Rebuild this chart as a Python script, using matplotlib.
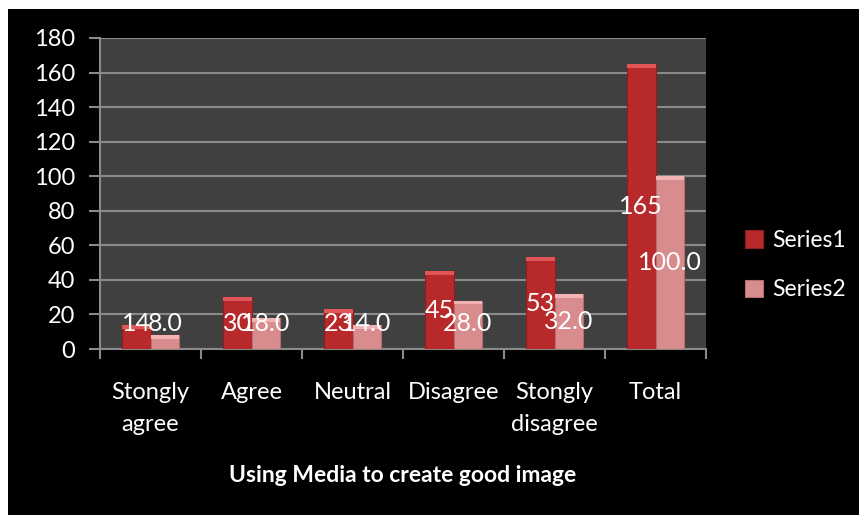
"""
Grouped bar chart: Using Media to create good image (Series1 counts vs Series2 percent).
"""
import matplotlib
matplotlib.use("Agg")
import matplotlib.pyplot as plt
from matplotlib.patches import Rectangle
import numpy as np

categories = ["Stongly\nagree", "Agree", "Neutral", "Disagree", "Stongly\ndisagree", "Total"]
series1 = [14, 30, 23, 45, 53, 165]
series2 = [8.0, 18.0, 14.0, 28.0, 32.0, 100.0]
series_names = ["Series1", "Series2"]
yticks = [0, 20, 40, 60, 80, 100, 120, 140, 160, 180]

plt.rcParams["font.family"] = ["Lato", "DejaVu Sans"]

W, H = 859, 515
fig = plt.figure(figsize=(W / 100, H / 100), dpi=100, facecolor="white")
# black chart area inside a thin white margin (top and left)
fig.patches.append(Rectangle((8 / W, 0), 1, 1 - 9 / H, transform=fig.transFigure,
                             facecolor="black", edgecolor="none", zorder=-10))

ax = fig.add_axes([100 / W, 1 - 349 / H, (706 - 100) / W, (349 - 38) / H])
ax.set_facecolor("#404040")

x = np.arange(len(categories))
w = 0.286
c1, c2 = "#b8292b", "#d98c8d"
e1, e2 = "#8e1d1f", "#b86c6d"
b1 = ax.bar(x - w / 2, series1, w, color=c1, edgecolor=e1, lw=0.8, zorder=3, label=series_names[0])
b2 = ax.bar(x + w / 2, series2, w, color=c2, edgecolor=e2, lw=0.8, zorder=3, label=series_names[1])

# lighter top caps for a bevel look
for bars, cap in ((b1, "#e05557"), (b2, "#f2b3b4")):
    for b in bars:
        ax.add_patch(Rectangle((b.get_x(), b.get_height() - 2.2), b.get_width(), 2.2,
                               facecolor=cap, edgecolor="none", zorder=4))

# centred data labels, kept clear of the axis for short bars
for xi, v in zip(x, series1):
    ax.text(xi - w / 2, max(v / 2, 15), f"{v:d}", color="white", fontsize=18,
            ha="center", va="center", zorder=5)
for xi, v in zip(x, series2):
    ax.text(xi + w / 2, max(v / 2, 15), f"{v:.1f}", color="white", fontsize=18,
            ha="center", va="center", zorder=5)

ax.set_xlim(-0.5, len(categories) - 0.5)
ax.set_ylim(0, 180)
ax.set_yticks(yticks)
ax.yaxis.grid(True, color="#8a8a8a", lw=1.5, zorder=0)
ax.set_axisbelow(True)
ax.set_xticks(x)
ax.set_xticklabels(categories, fontsize=17, color="white", linespacing=1.6)
ax.set_xticks(np.arange(len(categories) + 1) - 0.5, minor=True)
ax.tick_params(axis="x", which="major", length=0, pad=24)
ax.tick_params(axis="x", which="minor", length=7, color="#8a8a8a", width=1.5)
ax.tick_params(axis="y", labelsize=17, labelcolor="white", color="#8a8a8a",
               length=8, width=1.5, pad=10)
for s in ("top", "right"):
    ax.spines[s].set_visible(False)
for s in ("left", "bottom"):
    ax.spines[s].set_color("#8a8a8a")
    ax.spines[s].set_linewidth(1.5)

ax.set_xlabel("Using Media to create good image", fontsize=16.5, fontweight="bold",
              color="white", labelpad=22)

leg = ax.legend(loc="center left", bbox_to_anchor=(1.03, 0.27), frameon=False,
                fontsize=16.5, labelcolor="white", handlelength=0.8, handleheight=0.8,
                handletextpad=0.4, labelspacing=1.25)

fig.savefig("out.png", dpi=100, facecolor=fig.get_facecolor())
